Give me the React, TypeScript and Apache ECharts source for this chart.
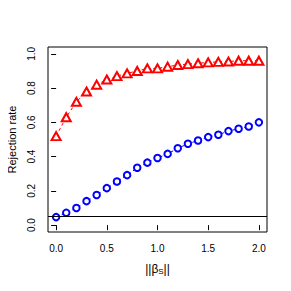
import React, { useEffect, useRef } from "react";
import * as echarts from "echarts";

const xValues = [0, 0.1, 0.2, 0.3, 0.4, 0.5, 0.6, 0.7, 0.8, 0.9, 1.0, 1.1, 1.2, 1.3, 1.4, 1.5, 1.6, 1.7, 1.8, 1.9, 2.0];
const redValues = [0.52, 0.63, 0.72, 0.78, 0.82, 0.85, 0.87, 0.886, 0.9, 0.915, 0.915, 0.925, 0.935, 0.94, 0.945, 0.95, 0.953, 0.955, 0.96, 0.96, 0.96];
const blueValues = [0.047, 0.072, 0.1, 0.14, 0.176, 0.216, 0.255, 0.292, 0.335, 0.365, 0.392, 0.416, 0.449, 0.475, 0.494, 0.514, 0.528, 0.549, 0.563, 0.576, 0.6];
const xTicks = [0, 0.5, 1, 1.5, 2];
const yTicks = [0, 0.2, 0.4, 0.6, 0.8, 1.0];
const refLevel = 0.05;

const FONT = "Liberation Sans, Arial, sans-serif";

export default function App() {
  const ref = useRef<HTMLDivElement>(null);
  useEffect(() => {
    if (!ref.current) return;
    const chart = echarts.init(ref.current, undefined, { renderer: "svg" });
    chart.setOption({
      animation: false,
      backgroundColor: "#fff",
      grid: {
        left: 48,
        right: 24,
        top: 47,
        bottom: 59,
        show: true,
        borderColor: "#000",
        borderWidth: 1,
        backgroundColor: "transparent",
        outerBoundsMode: "none",
        containLabel: false,
      },
      xAxis: {
        type: "value",
        min: -0.08,
        max: 2.08,
        axisLine: { show: false },
        splitLine: { show: false },
        axisTick: { show: true, length: 5, customValues: xTicks, lineStyle: { color: "#000" } },
        axisLabel: {
          customValues: xTicks,
          formatter: (v: number) => v.toFixed(1),
          color: "#000",
          fontSize: 10,
          fontFamily: FONT,
          margin: 11,
        },
        name: "||{g|β}{s|S}||",
        nameLocation: "middle",
        nameGap: 30,
        nameTextStyle: {
          color: "#000",
          fontSize: 12,
          fontFamily: FONT,
          rich: {
            g: { fontSize: 12, fontFamily: FONT, color: "#000" },
            s: { fontSize: 8, fontFamily: FONT, color: "#000", padding: [5, 0, 0, 0] },
          },
        },
      },
      yAxis: {
        type: "value",
        min: -0.04,
        max: 1.04,
        axisLine: { show: false },
        splitLine: { show: false },
        axisTick: { show: true, length: 5, customValues: yTicks, lineStyle: { color: "#000" } },
        axisLabel: {
          customValues: yTicks,
          formatter: (v: number) => v.toFixed(1),
          rotate: 90,
          color: "#000",
          fontSize: 10,
          fontFamily: FONT,
          margin: 12,
        },
        name: "Rejection rate",
        nameLocation: "middle",
        nameGap: 31,
        nameTextStyle: { color: "#000", fontSize: 11, fontFamily: FONT },
      },
      series: [
        {
          type: "line",
          data: xValues.map((x, i) => [x, blueValues[i]]),
          symbol: "emptyCircle",
          symbolSize: 6.5,
          itemStyle: { color: "#0000FF", borderWidth: 1.4 },
          lineStyle: { color: "#0000FF", width: 1, type: [3, 3] },
          markLine: {
            silent: true,
            symbol: "none",
            label: { show: false },
            lineStyle: { color: "#000", width: 1, type: "solid" },
            data: [{ yAxis: refLevel }],
          },
          z: 3,
        },
        {
          type: "line",
          data: xValues.map((x, i) => [x, redValues[i]]),
          symbol: "emptyTriangle",
          symbolSize: [9, 8],
          itemStyle: { color: "#FF0000", borderWidth: 1.3 },
          lineStyle: { color: "#FF0000", width: 1, type: [3, 3] },
          z: 4,
        },
      ],
    });
    return () => chart.dispose();
  }, []);
  return <div ref={ref} style={{ width: 291, height: 291, margin: -8 }} />;
}
